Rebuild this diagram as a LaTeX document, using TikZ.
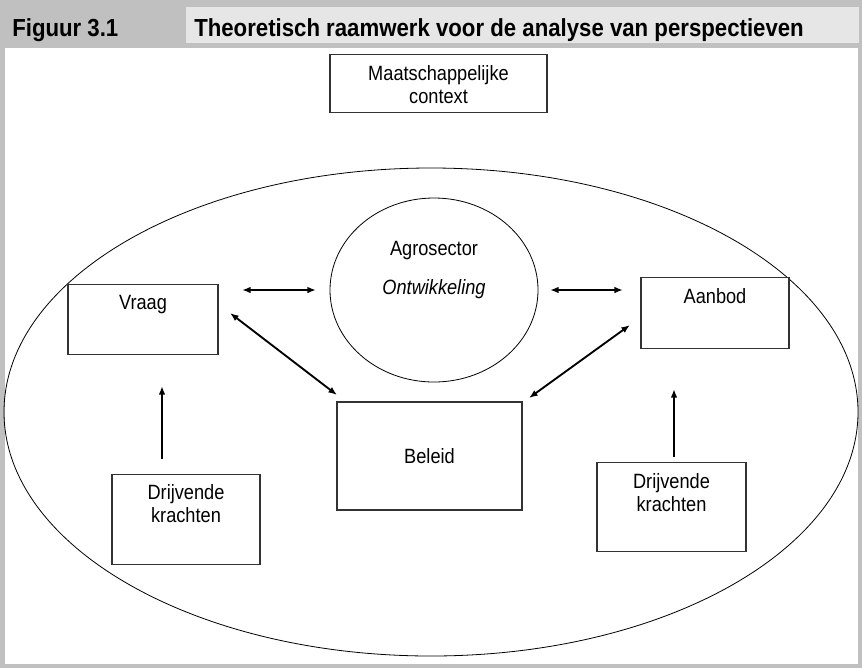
\documentclass[tikz,border=0pt]{standalone}
\usepackage{fontspec}
\setmainfont{Liberation Sans}[FakeStretch=0.88]
\newfontfamily\headfont{Liberation Sans}[FakeStretch=0.9]
\usetikzlibrary{
  positioning,
  arrows.meta,
  shapes.geometric
}
\definecolor{framegray}{HTML}{C0C0C0}
\definecolor{headgray}{HTML}{E6E6E6}
\tikzset{>={Latex[length=6.5pt,width=5pt]}}

\begin{document}
\begin{tikzpicture}[x=0.75pt, y=-0.75pt,
    box/.style = {rectangle, draw=black!80, fill=white, line width=0.8pt, inner sep=0pt, align=center, font=\fontsize{15.5}{17.5}\selectfont},
    head/.style = {anchor=base west, inner sep=0pt, font=\headfont\bfseries\fontsize{18.5}{22}\selectfont},
    link/.style = {<->, line width=1.4pt},
    push/.style = {->, line width=1.4pt}]
          % frame and caption
          \fill[framegray] (0,0) rectangle (862,668);
          \fill[headgray] (186,7) rectangle (859,43);
          \fill[white] (5,48) rectangle (858,664);
          \node[head] (fignum) at (12,36) {Figuur 3.1};
          \node[head] (title) at (194,36) {Theoretisch raamwerk voor de analyse van perspectieven};

          % nodes
          \node[box, anchor=north, text width=162.75pt, text height=19.5pt, text depth=24pt] (context) at (438.5,54) {Maatschappelijke\\context};
          \node[ellipse, draw, line width=0.6pt, minimum width=640.5pt, minimum height=366pt, inner sep=0pt] (field) at (431,412) {};
          \node[ellipse, draw, line width=0.6pt, minimum width=156pt, minimum height=138pt, inner sep=0pt, align=center, font=\fontsize{15.5}{17.5}\selectfont, text height=40.5pt, text depth=34.5pt] (agro) at (434,290) {Agrosector\\[11.75pt]\textit{Ontwikkeling}};
          \node[box, anchor=north, text width=112.5pt, text height=18.75pt, text depth=33.75pt] (vraag) at (143,284) {Vraag};
          \node[box, anchor=north, text width=111pt, text height=19.5pt, text depth=33.75pt] (aanbod) at (715,277) {Aanbod};
          \node[box, minimum width=138.75pt, minimum height=81pt] (beleid) at (429.5,456) {Beleid};
          \node[box, anchor=north, text width=111pt, text height=18.75pt, text depth=48.75pt] (drijfL) at (186,474) {Drijvende\\krachten};
          \node[box, anchor=north, text width=111.75pt, text height=19.5pt, text depth=47.25pt] (drijfR) at (671.5,462) {Drijvende\\krachten};

          % arrow ends
          \coordinate (vraagE) at (242,290);
          \coordinate (agroW) at (316,290);
          \coordinate (agroE) at (550,290);
          \coordinate (aanbodW) at (623,290);
          \coordinate (vraagSE) at (230,313);
          \coordinate (beleidNW) at (337,395);
          \coordinate (aanbodSW) at (630,325);
          \coordinate (beleidNE) at (529,398);
          \coordinate (drijfLN) at (162,459);
          \coordinate (vraagS) at (162,386);
          \coordinate (drijfRN) at (674,457);
          \coordinate (aanbodS) at (674,389);

          % connections
          \draw[link] (vraagE) -- (agroW);
          \draw[link] (agroE) -- (aanbodW);
          \draw[link] (vraagSE) -- (beleidNW);
          \draw[link] (aanbodSW) -- (beleidNE);
          \draw[push] (drijfLN) -- (vraagS);
          \draw[push] (drijfRN) -- (aanbodS);
\end{tikzpicture}
\end{document}
